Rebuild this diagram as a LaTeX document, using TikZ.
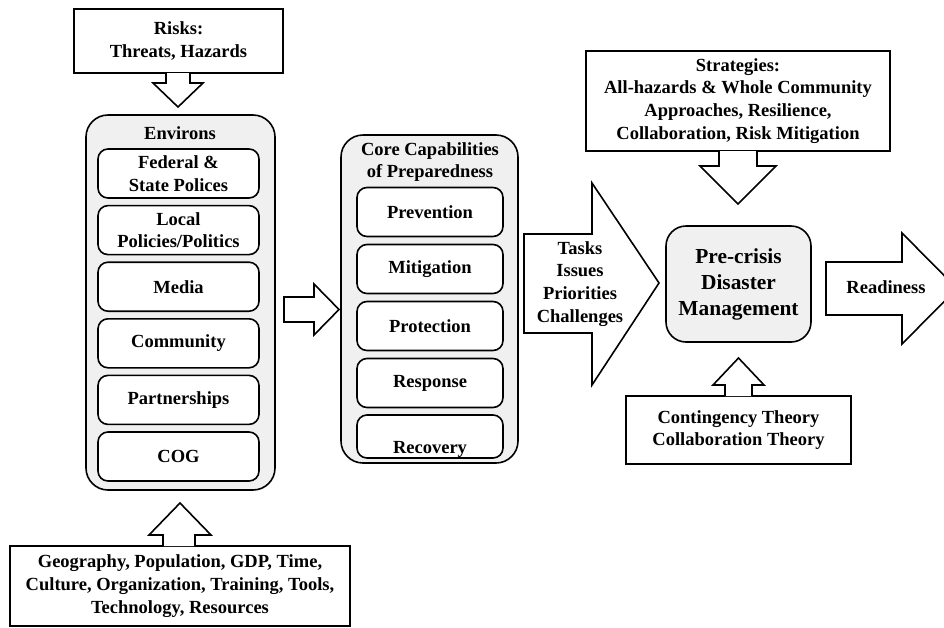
\documentclass[tikz,border=0pt]{standalone}
\usepackage{fontspec}
\setmainfont{Liberation Serif}
\usetikzlibrary{positioning}

\begin{document}
\begin{tikzpicture}[x=1pt, y=-1pt,
	txt/.style={font=\bfseries\fontsize{18.5}{22.8}\selectfont, align=center, inner sep=0pt},
	plainbox/.style={draw, line width=1.6pt, txt},
	item/.style={draw, line width=1.6pt, rounded corners=10pt, fill=white, txt},
	group/.style={draw, line width=1.6pt, rounded corners=22pt, fill=black!6},
	blockarrow/.style={draw, line width=1.6pt, fill=white, line join=miter}]

\useasboundingbox (0,0) rectangle (944,627);

% risks on top
\node[plainbox, minimum width=209pt, minimum height=64pt] (risks) at (178.5,41) {Risks:\\Threats, Hazards};
\draw[blockarrow] (166,73) -- (166,83) -- (153,83) -- (178,107) -- (203,83) -- (190,83) -- (190,73);

% environs
\node[group, minimum width=189pt, minimum height=375pt] (environs) at (180.5,302.5) {};
\node[txt] (envtitle) at (180,133) {Environs};
\foreach \t [count=\i from 0] in {{Federal \&\\State Polices}, {Local\\Policies/Politics}, Media, Community, Partnerships, COG}
	\node[item, minimum width=161pt, minimum height=49pt] (env\i) at (178.5,173.5+56.6*\i) {\t};

% factors at the bottom
\node[plainbox, minimum width=340pt, minimum height=80pt] (factors) at (180,586) {Geography, Population, GDP, Time,\\Culture, Organization, Training, Tools,\\Technology, Resources};
\draw[blockarrow] (163,546) -- (163,535) -- (149,535) -- (180,503) -- (211,535) -- (195,535) -- (195,546);

\draw[blockarrow] (284,297) -- (314,297) -- (314,284) -- (339,309.5) -- (314,335) -- (314,322) -- (284,322) -- cycle;

% core capabilities
\node[group, minimum width=177pt, minimum height=328pt] (core) at (429.5,299) {};
\node[txt] (coretitle) at (430,162) {Core Capabilities\\of Preparedness};
\foreach \t [count=\i from 0] in {Prevention, Mitigation, Protection, Response}
	\node[item, minimum width=146pt, minimum height=49pt] (cap\i) at (430,212+57*\i) {\t};
\node[item, minimum width=146pt, minimum height=43pt] (cap4) at (430,436.5) {};
\node[txt] (recovery) at (430,449) {Recovery};

% tasks
\draw[blockarrow] (524,234) -- (592,234) -- (592,183) -- (659,283) -- (592,385) -- (592,333) -- (524,333) -- cycle;
\node[txt] (tasks) at (580,284) {Tasks\\Issues\\Priorities\\Challenges};

% strategies
\node[plainbox, minimum width=304pt, minimum height=100pt] (strategies) at (738,101) {Strategies:\\All-hazards \& Whole Community\\Approaches, Resilience,\\Collaboration, Risk Mitigation};
\draw[blockarrow] (719,151) -- (719,166) -- (700,166) -- (738,204) -- (776,166) -- (757,166) -- (757,151);

\node[draw, line width=1.6pt, rounded corners=20pt, fill=black!6, minimum width=145pt, minimum height=116pt, align=center, inner sep=0pt,
	font=\bfseries\fontsize{21.4}{26}\selectfont] (precrisis) at (738.5,284) {Pre-crisis\\Disaster\\Management};

% theories
\node[plainbox, minimum width=225pt, minimum height=68pt] (theory) at (738.5,430) {Contingency Theory\\Collaboration Theory};
\draw[blockarrow] (725,396) -- (725,385) -- (713,385) -- (738.5,358) -- (764,385) -- (752,385) -- (752,396);

% readiness
\draw[blockarrow] (826,262) -- (902,262) -- (902,233) -- (957,288.5) -- (902,344) -- (902,315) -- (826,315) -- cycle;
\node[txt] (readiness) at (886,287) {Readiness};

\end{tikzpicture}
\end{document}
